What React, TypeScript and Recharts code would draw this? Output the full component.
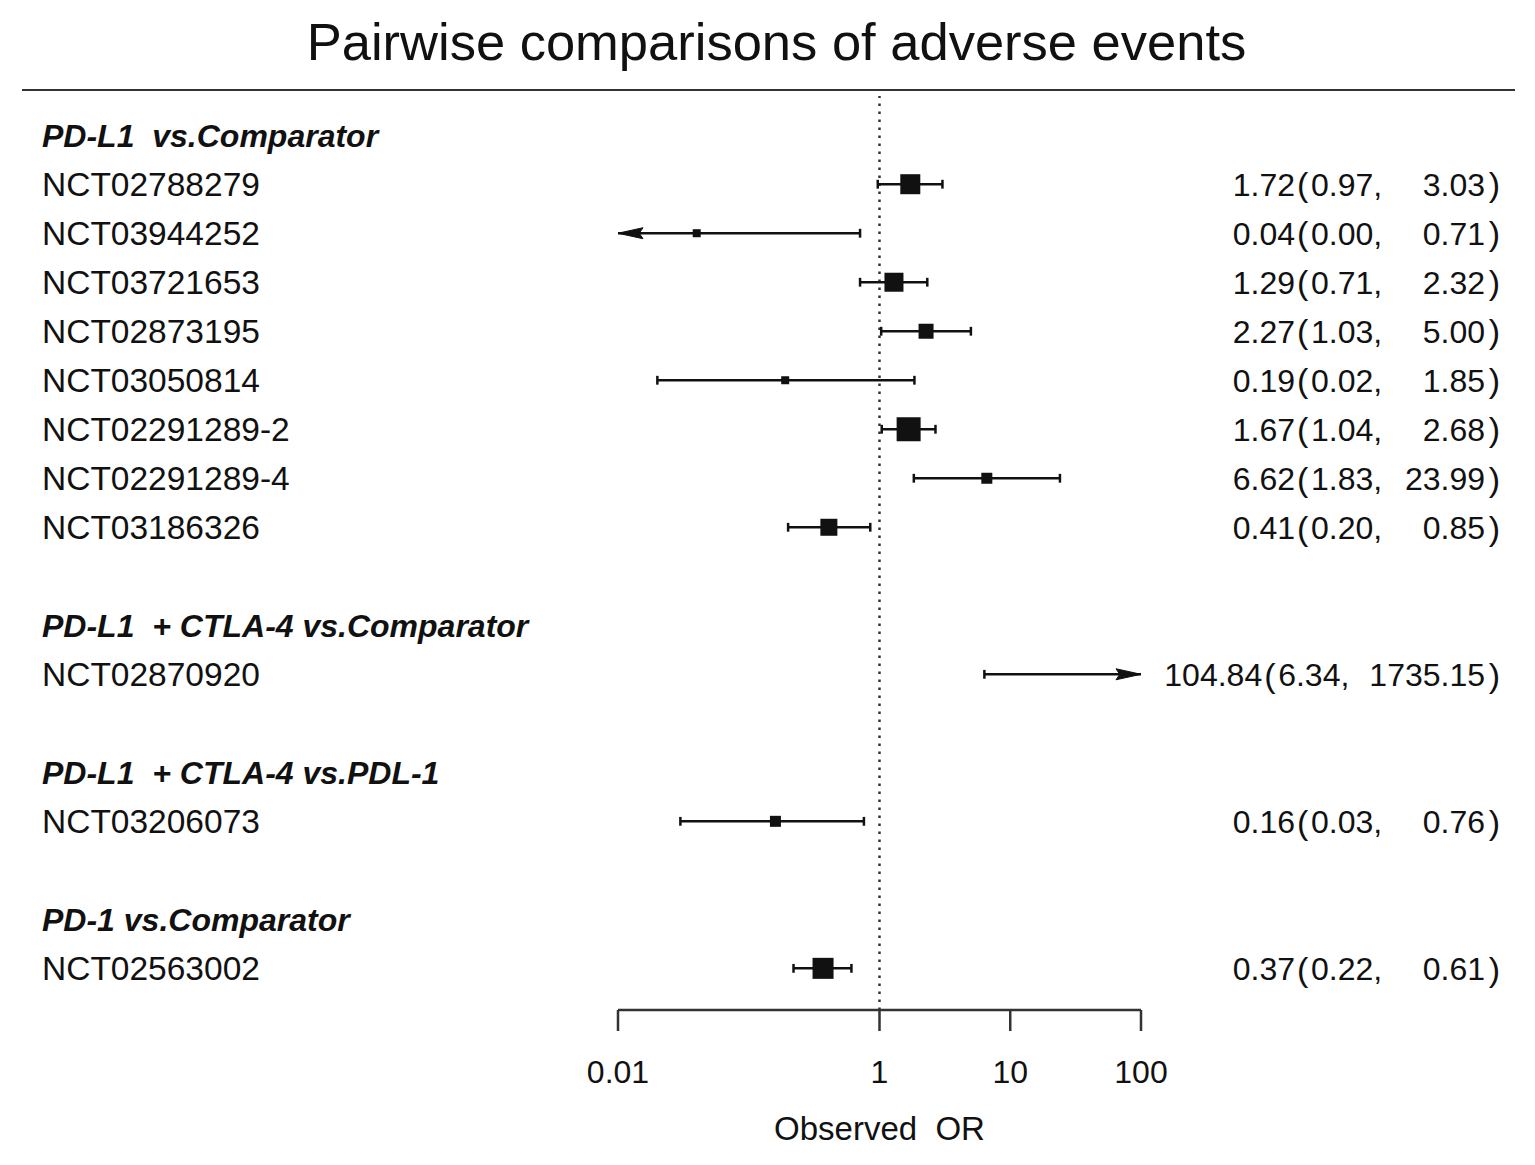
import React from 'react'
import { ScatterChart, Scatter, XAxis, YAxis, ReferenceLine, Label } from 'recharts'

// rows of the forest plot, top to bottom (0 = first header)
const headers = ['PD-L1  vs.Comparator', 'PD-L1  + CTLA-4 vs.Comparator', 'PD-L1  + CTLA-4 vs.PDL-1', 'PD-1 vs.Comparator']
const headerRows = [0, 10, 13, 16]

const studies = [
  'NCT02788279',
  'NCT03944252',
  'NCT03721653',
  'NCT02873195',
  'NCT03050814',
  'NCT02291289-2',
  'NCT02291289-4',
  'NCT03186326',
  'NCT02870920',
  'NCT03206073',
  'NCT02563002',
]
const studyRows = [1, 2, 3, 4, 5, 6, 7, 8, 11, 14, 17]
const oddsRatio = [1.72, 0.04, 1.29, 2.27, 0.19, 1.67, 6.62, 0.41, 104.84, 0.16, 0.37]
const ciLower = [0.97, 0.0, 0.71, 1.03, 0.02, 1.04, 1.83, 0.2, 6.34, 0.03, 0.22]
const ciUpper = [3.03, 0.71, 2.32, 5.0, 1.85, 2.68, 23.99, 0.85, 1735.15, 0.76, 0.61]
// marker side in px (study weight)
const weights = [20, 8, 19, 15, 8, 24, 11, 17, 0, 11, 21]

const xTicks = [0.01, 1, 10, 100]
const xMin = 0.01
const xMax = 100
const allRows = Array.from({ length: 18 }, (_, i) => i)

const FONT = '"Liberation Sans", Arial, Helvetica, sans-serif'
const INK = '#111'
const ANN_SIZE = 32

// rough Arial advance widths, used to keep the CI columns from colliding
const textWidth = (s: string) =>
  s.split('').reduce((w, c) => w + (/[0-9]/.test(c) ? 0.556 : c === '(' || c === ')' ? 0.333 : 0.278), 0) * ANN_SIZE

const points = studies
  .map((s, i) => ({ name: s, or: oddsRatio[i], row: studyRows[i], size: weights[i] }))
  .filter((p) => p.or >= xMin && p.or <= xMax)

const arrows: { or: number; row: number; dir: number }[] = []
studies.forEach((_, i) => {
  if (ciLower[i] < xMin) arrows.push({ or: xMin, row: studyRows[i], dir: -1 })
  if (ciUpper[i] > xMax) arrows.push({ or: xMax, row: studyRows[i], dir: 1 })
})

const SquareShape = (props: any) => {
  const { cx, cy, payload } = props
  const s = payload.size
  return <rect x={cx - s / 2} y={cy - s / 2} width={s} height={s} fill={INK} />
}

const ArrowShape = (props: any) => {
  const { cx, cy, payload } = props
  const d = payload.dir
  const len = 25
  return (
    <polygon
      points={`${cx},${cy} ${cx - d * len},${cy - 5.5} ${cx - d * len * 0.85},${cy} ${cx - d * len},${cy + 5.5}`}
      fill={INK}
      stroke={INK}
      strokeWidth={1}
      strokeLinejoin='round'
    />
  )
}

// one tick per row: study / group label on the left, OR (95% CI) on the right
const RowTick = (props: any) => {
  const { y, payload } = props
  const h = headerRows.indexOf(payload.value)
  const s = studyRows.indexOf(payload.value)
  if (h < 0 && s < 0) return null
  if (h >= 0) {
    return (
      <text
        x={42}
        y={y}
        dy='0.36em'
        textAnchor='start'
        fontFamily={FONT}
        fontSize={32}
        fontWeight='bold'
        fontStyle='italic'
        fill={INK}
        style={{ whiteSpace: 'pre' }}
      >
        {headers[h]}
      </text>
    )
  }
  const common = { y, dy: '0.36em', fontFamily: FONT, fontSize: ANN_SIZE, fill: INK }
  const lowLabel = `${ciLower[s].toFixed(2)},`
  const hiLabel = ciUpper[s].toFixed(2)
  const hiEnd = 1485
  const paren = Math.min(1297, hiEnd - textWidth(hiLabel) - 20 - textWidth(lowLabel) - 14)
  return (
    <g>
      <text {...common} x={42} textAnchor='start' fontSize={33.5}>
        {studies[s]}
      </text>
      <text {...common} x={paren - 2} textAnchor='end'>
        {oddsRatio[s].toFixed(2)}
      </text>
      <text {...common} x={paren} textAnchor='start' fontSize={34}>
        (
      </text>
      <text {...common} x={paren + 14} textAnchor='start'>
        {lowLabel}
      </text>
      <text {...common} x={hiEnd} textAnchor='end'>
        {hiLabel}
      </text>
      <text {...common} x={1500} textAnchor='end' fontSize={34}>
        )
      </text>
    </g>
  )
}

export default function App() {
  const ciLines = studies.map((s, i) => {
    const lo = Math.max(ciLower[i], xMin)
    const hi = Math.min(ciUpper[i], xMax)
    const r = studyRows[i]
    return (
      <React.Fragment key={s}>
        <ReferenceLine
          segment={[
            { x: lo, y: r },
            { x: hi, y: r },
          ]}
          stroke={INK}
          strokeWidth={2.5}
          ifOverflow='visible'
        />
        {ciLower[i] >= xMin && (
          <ReferenceLine
            segment={[
              { x: lo, y: r - 0.09 },
              { x: lo, y: r + 0.09 },
            ]}
            stroke={INK}
            strokeWidth={2.5}
            ifOverflow='visible'
          />
        )}
        {ciUpper[i] <= xMax && (
          <ReferenceLine
            segment={[
              { x: hi, y: r - 0.09 },
              { x: hi, y: r + 0.09 },
            ]}
            stroke={INK}
            strokeWidth={2.5}
            ifOverflow='visible'
          />
        )}
      </React.Fragment>
    )
  })

  return (
    <div style={{ position: 'absolute', left: 0, top: 0, width: 1535, height: 1165, background: '#fff', fontFamily: FONT }}>
      <div
        style={{
          position: 'absolute',
          left: 0,
          top: 16,
          width: 1553,
          textAlign: 'center',
          fontSize: 52.5,
          lineHeight: '52px',
          color: INK,
        }}
      >
        Pairwise comparisons of adverse events
      </div>
      <div style={{ position: 'absolute', left: 22, top: 89, width: 1493, height: 2, background: '#333' }} />
      <ScatterChart width={1535} height={1165} margin={{ top: 96, right: 394, bottom: 0, left: 0 }}>
        <XAxis
          type='number'
          dataKey='or'
          scale='log'
          domain={[xMin, xMax]}
          allowDataOverflow
          ticks={xTicks}
          interval={0}
          tickFormatter={(v: number) => String(v)}
          tickSize={21}
          tickMargin={29}
          height={155}
          stroke='#333'
          strokeWidth={2.5}
          tick={{ fill: INK, fontSize: 32, fontFamily: FONT }}
        >
          <Label
            value={'Observed\u00A0\u00A0OR'}
            position='insideBottom'
            offset={25}
            style={{ fill: INK, fontSize: 33, fontFamily: FONT }}
          />
        </XAxis>
        <YAxis
          type='number'
          dataKey='row'
          domain={[-0.8, 17.85]}
          reversed
          ticks={allRows}
          interval={0}
          width={618}
          axisLine={false}
          tickLine={false}
          tick={<RowTick />}
        />
        <ReferenceLine x={1} stroke='#333' strokeWidth={2.5} strokeDasharray='2.5 5.5' />
        {ciLines}
        <Scatter data={points} shape={SquareShape} isAnimationActive={false} />
        <Scatter data={arrows} shape={ArrowShape} isAnimationActive={false} />
      </ScatterChart>
    </div>
  )
}
